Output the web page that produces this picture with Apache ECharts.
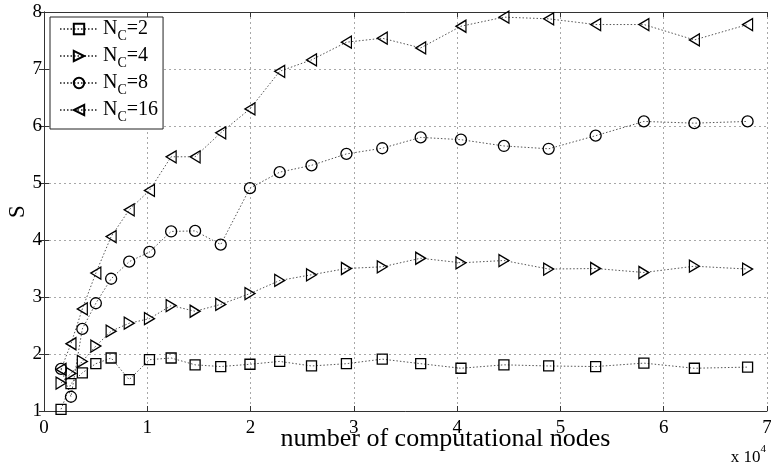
<!DOCTYPE html>
<html>
<head>
<meta charset="utf-8">
<script src="https://cdn.jsdelivr.net/npm/echarts@6/dist/echarts.min.js"></script>
<style>
  html, body { margin: 0; padding: 0; background: #fff; }
  #chart { width: 771px; height: 464px; }
</style>
</head>
<body>
<div id="chart"></div>
<script>
// number of computational nodes, in units of 10^4
const nodes = [0.165, 0.261, 0.371, 0.502, 0.650, 0.825, 1.021, 1.231, 1.463, 1.711,
  1.994, 2.282, 2.590, 2.928, 3.275, 3.647, 4.037, 4.453, 4.886, 5.341, 5.808, 6.297, 6.812];

// speed-up S per number of clusters
const speedupNc2 = [1.03, 1.48, 1.67, 1.83, 1.93, 1.55, 1.90, 1.93, 1.81, 1.78, 1.82, 1.87,
  1.79, 1.83, 1.91, 1.83, 1.75, 1.81, 1.79, 1.78, 1.84, 1.75, 1.77];
const speedupNc4 = [1.49, 1.66, 1.87, 2.14, 2.40, 2.54, 2.62, 2.85, 2.75, 2.87, 3.06, 3.29,
  3.39, 3.50, 3.53, 3.68, 3.60, 3.64, 3.49, 3.50, 3.43, 3.54, 3.49];
const speedupNc8 = [1.74, 1.25, 2.44, 2.89, 3.32, 3.62, 3.79, 4.15, 4.16, 3.92, 4.91, 5.19,
  5.31, 5.51, 5.61, 5.80, 5.76, 5.65, 5.60, 5.83, 6.08, 6.05, 6.08];
const speedupNc16 = [1.73, 2.18, 2.79, 3.42, 4.06, 4.53, 4.87, 5.46, 5.46, 5.88, 6.30, 6.96,
  7.16, 7.47, 7.54, 7.37, 7.75, 7.91, 7.88, 7.78, 7.78, 7.51, 7.78];

const clusterCounts = ['2', '4', '8', '16'];
const xTicks = [0, 1, 2, 3, 4, 5, 6, 7];
const yTicks = [1, 2, 3, 4, 5, 6, 7, 8];

const serif = '"Liberation Serif", "DejaVu Serif", serif';

// hollow MATLAB-like markers
const markers = [
  { symbol: 'rect', size: 10 },
  { symbol: 'path://M0,0 L10,5 L0,10 Z', size: [10, 12] },
  { symbol: 'circle', size: 11 },
  { symbol: 'path://M10,0 L0,5 L10,10 Z', size: [10, 12] }
];
const values = [speedupNc2, speedupNc4, speedupNc8, speedupNc16];

const series = values.map((vals, i) => ({
  name: 'N_C=' + clusterCounts[i],
  type: 'line',
  data: vals.map((v, j) => [nodes[j], v]),
  symbol: markers[i].symbol,
  symbolSize: markers[i].size,
  showAllSymbol: true,
  lineStyle: { color: '#555', width: 1, type: [1.5, 2] },
  itemStyle: { color: 'rgba(255,255,255,0)', borderColor: '#000', borderWidth: 1.3 },
  emphasis: { disabled: true },
  animation: false,
  z: 3
}));

const gridLine = { show: true, lineStyle: { color: '#a8a8a8', width: 1, type: [2, 3] } };
const axisLine = { show: true, lineStyle: { color: '#333', width: 1 } };
const tickIn = { show: true, inside: true, length: 5, lineStyle: { color: '#333' } };

const chart = echarts.init(document.getElementById('chart'), null, { renderer: 'canvas' });
chart.setOption({
  backgroundColor: '#fff',
  animation: false,
  grid: { left: 44, right: 4, top: 12, bottom: 53, outerBoundsMode: 'none', containLabel: false },
  xAxis: [{
    type: 'value', min: 0, max: 7, interval: 1,
    axisLine: axisLine, axisTick: tickIn, splitLine: gridLine,
    axisLabel: { color: '#000', fontFamily: serif, fontSize: 19, margin: 8,
      formatter: v => xTicks.includes(v) ? String(v) : '' },
    name: 'number of computational nodes', nameLocation: 'middle', nameGap: 15,
    nameMoveOverlap: false,
    nameTextStyle: { color: '#000', fontFamily: serif, fontSize: 26, lineHeight: 26, padding: [0, 0, 0, 80] }
  }, {
    type: 'value', position: 'top', min: 0, max: 7, interval: 1,
    axisLine: axisLine, axisTick: tickIn, axisLabel: { show: false }, splitLine: { show: false }
  }],
  yAxis: [{
    type: 'value', min: 1, max: 8, interval: 1,
    axisLine: axisLine, axisTick: tickIn, splitLine: gridLine,
    axisLabel: { color: '#000', fontFamily: serif, fontSize: 19, margin: 2,
      formatter: v => yTicks.includes(v) ? String(v) : '' },
    name: 'S', nameLocation: 'middle', nameGap: 15,
    nameMoveOverlap: false,
    nameTextStyle: { color: '#000', fontFamily: serif, fontSize: 23 }
  }, {
    type: 'value', position: 'right', min: 1, max: 8, interval: 1,
    axisLine: axisLine, axisTick: tickIn, axisLabel: { show: false }, splitLine: { show: false }
  }],
  legend: {
    left: 50, top: 17, orient: 'vertical',
    data: series.map(s => s.name),
    backgroundColor: '#fff', borderColor: '#222', borderWidth: 1,
    padding: [2, 5, 5, 9], itemGap: 3, itemWidth: 38, itemHeight: 13,
    selectedMode: false,
    formatter: name => '{n|N}{s|C}{n|=' + name.split('=')[1] + '}',
    textStyle: {
      color: '#000', fontFamily: serif,
      rich: {
        n: { fontSize: 20, fontFamily: serif, lineHeight: 28, verticalAlign: 'middle', color: '#000' },
        s: { fontSize: 14, fontFamily: serif, lineHeight: 13, verticalAlign: 'bottom', color: '#000' }
      }
    },
    z: 10
  },
  graphic: [{
    type: 'text', right: 5, top: 444,
    style: {
      text: '{b|x 10}{p|4}', fill: '#000',
      rich: {
        b: { fontFamily: serif, fontSize: 17, lineHeight: 22, verticalAlign: 'bottom' },
        p: { fontFamily: serif, fontSize: 11, lineHeight: 10, verticalAlign: 'top' }
      }
    }
  }],
  series: series
});
</script>
</body>
</html>
